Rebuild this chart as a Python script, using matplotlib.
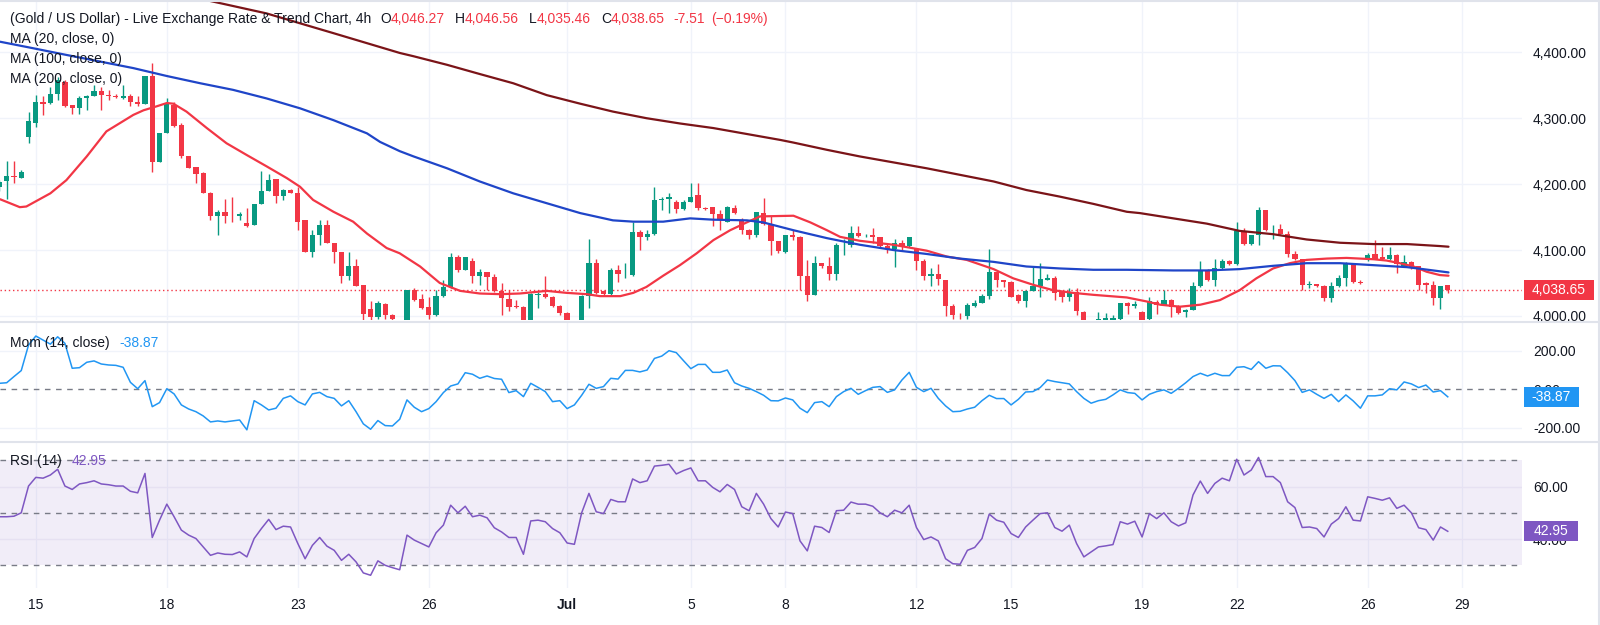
import matplotlib
matplotlib.use("Agg")
import matplotlib.pyplot as plt
from matplotlib.lines import Line2D
from matplotlib.patches import Rectangle

plt.rcParams['font.family'] = ['Liberation Sans', 'DejaVu Sans']

# XAU/USD 4h candles, oldest first
opens = [4195, 4205, 4212, 4210, 4272, 4292, 4325, 4323, 4336, 4355,
         4320, 4315, 4330, 4334, 4342, 4335, 4333, 4331, 4333, 4325,
         4322, 4364, 4234, 4277, 4320, 4290, 4243, 4226, 4217, 4187,
         4152, 4158, 4152, 4151, 4141, 4138, 4170, 4189, 4207, 4182,
         4191, 4187, 4145, 4097, 4123, 4138, 4111, 4097, 4060, 4075,
         4047, 4010, 3999, 4018, 4002, 3993, 3990, 4039, 4025, 4013,
         4001, 4030, 4044, 4090, 4070, 4084, 4061, 4067, 4059, 4038,
         4025, 4015, 4014, 3993, 4032, 4033, 4029, 4015, 4005, 3989,
         3982, 4030, 4080, 4038, 4034, 4069, 4063, 4062, 4128, 4120,
         4124, 4176, 4177, 4173, 4162, 4173, 4183, 4164, 4165, 4155,
         4143, 4163, 4145, 4131, 4123, 4156, 4138, 4114, 4097, 4123,
         4120, 4061, 4032, 4080, 4075, 4063, 4107, 4108, 4126, 4121,
         4123, 4119, 4106, 4101, 4111, 4106, 4101, 4084, 4060, 4064,
         4055, 4015, 4002, 4000, 4015, 4020, 4030, 4066, 4054, 4052,
         4031, 4022, 4038, 4045, 4055, 4057, 4036, 4029, 4037, 4006,
         3993, 3990, 3992, 3993, 3995, 4019, 4015, 4006, 3995, 4021,
         4017, 4024, 4015, 4006, 4009, 4045, 4069, 4054, 4072, 4084,
         4079, 4129, 4109, 4123, 4160, 4130, 4132, 4125, 4094, 4086,
         4047, 4048, 4045, 4027, 4045, 4057, 4077, 4052, 4087, 4094,
         4090, 4087, 4092, 4075, 4082, 4075, 4050, 4047, 4027, 4046.27]
highs = [4206, 4235, 4235, 4221, 4310, 4335, 4333, 4347, 4363, 4358,
         4320, 4333, 4335, 4350, 4347, 4343, 4337, 4350, 4336, 4333,
         4364, 4383, 4277, 4330, 4325, 4292, 4243, 4226, 4218, 4188,
         4161, 4178, 4181, 4157, 4163, 4170, 4220, 4215, 4207, 4193,
         4193, 4196, 4145, 4131, 4145, 4145, 4111, 4097, 4097, 4087,
         4047, 4022, 4022, 4020, 4003, 3994, 4040, 4042, 4034, 4029,
         4039, 4054, 4096, 4092, 4090, 4088, 4071, 4067, 4063, 4050,
         4039, 4024, 4015, 4035, 4037, 4061, 4030, 4016, 4006, 3993,
         4031, 4116, 4087, 4039, 4072, 4077, 4080, 4142, 4130, 4130,
         4196, 4181, 4186, 4176, 4176, 4202, 4202, 4166, 4165, 4160,
         4167, 4168, 4148, 4132, 4158, 4179, 4151, 4114, 4123, 4130,
         4121, 4085, 4091, 4081, 4090, 4111, 4117, 4136, 4136, 4124,
         4133, 4120, 4111, 4116, 4115, 4120, 4103, 4087, 4072, 4079,
         4055, 4018, 4005, 4019, 4024, 4033, 4101, 4067, 4055, 4053,
         4034, 4040, 4074, 4080, 4064, 4061, 4038, 4042, 4042, 4007,
         3993, 4006, 4004, 4001, 4019, 4021, 4022, 4007, 4029, 4024,
         4039, 4026, 4016, 4010, 4052, 4084, 4071, 4086, 4086, 4085,
         4142, 4134, 4123, 4166, 4160, 4138, 4140, 4129, 4099, 4086,
         4053, 4049, 4047, 4052, 4062, 4082, 4080, 4054, 4096, 4115,
         4105, 4104, 4094, 4092, 4083, 4075, 4051, 4053, 4046, 4046.56]
lows = [4190, 4177, 4202, 4209, 4262, 4287, 4305, 4322, 4328, 4317,
        4307, 4307, 4312, 4333, 4313, 4328, 4330, 4329, 4318, 4318,
        4322, 4219, 4234, 4277, 4287, 4240, 4224, 4201, 4186, 4146,
        4123, 4141, 4143, 4146, 4135, 4138, 4170, 4189, 4171, 4176,
        4187, 4131, 4097, 4090, 4108, 4110, 4080, 4050, 4054, 4045,
        3994, 3994, 3995, 3996, 3990, 3982, 3986, 4022, 4010, 3996,
        4000, 4029, 4043, 4067, 4069, 4050, 4047, 4039, 4037, 4001,
        4007, 4012, 3985, 3990, 4012, 4027, 4014, 4001, 3988, 3978,
        3980, 4012, 4034, 4031, 4032, 4052, 4058, 4060, 4100, 4115,
        4123, 4160, 4156, 4156, 4161, 4173, 4161, 4160, 4137, 4130,
        4142, 4154, 4125, 4116, 4119, 4138, 4093, 4095, 4096, 4115,
        4040, 4022, 4032, 4073, 4054, 4055, 4093, 4105, 4120, 4119,
        4110, 4104, 4095, 4074, 4100, 4104, 4070, 4055, 4045, 4047,
        4000, 3996, 3996, 3996, 4014, 4019, 4025, 4044, 4044, 4028,
        4020, 4014, 4038, 4028, 4054, 4024, 4021, 4022, 4002, 3988,
        3985, 3988, 3988, 3990, 3993, 4003, 4012, 3990, 3993, 4003,
        4016, 3999, 4003, 3999, 4009, 4044, 4053, 4045, 4071, 4077,
        4077, 4108, 4108, 4107, 4129, 4116, 4124, 4090, 4085, 4040,
        4042, 4044, 4022, 4021, 4044, 4045, 4050, 4048, 4084, 4087,
        4085, 4085, 4065, 4074, 4071, 4040, 4035, 4017, 4010, 4035.46]
closes = [4203, 4212, 4211, 4219, 4295, 4325, 4322, 4336, 4358, 4318,
          4315, 4330, 4334, 4342, 4335, 4333, 4332, 4333, 4325, 4322,
          4364, 4234, 4277, 4323, 4288, 4242, 4225, 4216, 4187, 4152,
          4158, 4152, 4151, 4155, 4136, 4170, 4189, 4206, 4182, 4191,
          4187, 4143, 4097, 4123, 4138, 4111, 4097, 4060, 4075, 4045,
          4003, 3999, 4019, 4002, 3996, 3988, 4039, 4024, 4012, 4001,
          4030, 4044, 4090, 4070, 4089, 4061, 4067, 4059, 4038, 4027,
          4014, 4013, 3992, 4034, 4033, 4029, 4015, 4004, 3989, 3981,
          4030, 4080, 4035, 4033, 4070, 4063, 4064, 4128, 4120, 4124,
          4176, 4177, 4181, 4162, 4173, 4181, 4163, 4162, 4155, 4146,
          4165, 4156, 4130, 4123, 4158, 4140, 4114, 4098, 4123, 4120,
          4061, 4032, 4080, 4075, 4064, 4108, 4108, 4126, 4121, 4122,
          4119, 4106, 4101, 4111, 4106, 4119, 4084, 4060, 4064, 4056,
          4015, 4001, 4001, 4017, 4020, 4030, 4066, 4054, 4051, 4029,
          4022, 4038, 4045, 4056, 4057, 4035, 4029, 4037, 4007, 3993,
          3990, 3996, 3997, 3997, 4019, 4015, 4018, 3994, 4022, 4017,
          4024, 4013, 4005, 4009, 4045, 4069, 4055, 4072, 4084, 4079,
          4129, 4109, 4123, 4160, 4130, 4131, 4125, 4094, 4086, 4047,
          4048, 4045, 4027, 4045, 4057, 4080, 4051, 4050, 4093, 4087,
          4087, 4093, 4079, 4082, 4072, 4047, 4047, 4027, 4046, 4038.65]

# moving averages, sampled along the drawn curves (bar index, value)
ma20_x = [0.1, 2.8, 3.7, 7.0, 9.2, 12.0, 14.7, 18.4, 19.8, 21.6, 23.0, 23.9, 25.7, 28.5,
          31.2, 34.0, 36.7, 39.5, 41.3, 43.1, 45.9, 48.6, 50.5, 53.2, 55.0, 57.8, 60.5,
          63.3, 66.0, 68.8, 71.5, 75.2, 77.9, 80.7, 82.5, 85.3, 87.1, 88.9, 91.2, 93.5,
          95.8, 98.1, 100.4, 102.7, 104.5, 109.1, 111.4, 113.7, 115.5, 118.2, 122.8,
          127.4, 130.2, 132.9, 136.6, 139.3, 142.1, 144.8, 147.5, 150.3, 154.9, 157.6,
          159.5, 162.2, 165.0, 167.7, 170.4, 172.7, 175.0, 177.3, 179.6, 182.4, 185.1,
          186.9, 188.8, 190.6, 192.4, 194.3, 196.1, 197.9, 199.1]
ma20_y = [4177, 4165, 4166, 4186, 4206, 4242, 4280, 4305, 4312, 4318, 4323, 4322, 4310, 4285,
          4262, 4244, 4227, 4209, 4196, 4176, 4158, 4143, 4125, 4103, 4095, 4075, 4050,
          4038, 4034, 4033, 4034, 4038, 4035, 4033, 4030, 4030, 4035, 4044, 4061, 4077,
          4095, 4115, 4130, 4142, 4151, 4152, 4142, 4130, 4120, 4114, 4108,
          4099, 4090, 4085, 4071, 4057, 4047, 4039, 4035, 4032, 4028, 4022,
          4017, 4014, 4017, 4024, 4039, 4057, 4072, 4080, 4085, 4087, 4088,
          4087, 4086, 4084, 4080, 4075, 4067, 4062, 4061]
ma100_x = [0.1, 4.7, 9.2, 13.8, 18.4, 23.0, 27.6, 32.1, 36.7, 41.3, 45.9, 50.5, 52.3, 55.0,
           56.9, 61.5, 66.0, 70.6, 75.2, 79.8, 84.3, 87.1, 91.2, 94.9, 98.1, 102.7, 104.9,
           109.1, 113.7, 118.2, 122.8, 127.4, 132.0, 136.6, 141.1, 145.7, 150.3, 154.9,
           161.3, 165.9, 170.4, 175.0, 179.6, 184.2, 188.8, 193.4, 195.6, 199.1]
ma100_y = [4416, 4406, 4396, 4386, 4376, 4364, 4353, 4343, 4330, 4315, 4297, 4277, 4264, 4250,
           4242, 4224, 4204, 4186, 4171, 4156, 4145, 4143, 4143, 4148, 4146, 4145, 4142,
           4130, 4118, 4108, 4100, 4094, 4087, 4082, 4075, 4072, 4070, 4070,
           4069, 4069, 4071, 4076, 4080, 4080, 4077, 4074, 4071, 4066]
ma200_x = [25.7, 28.5, 36.7, 45.9, 55.0, 56.9, 61.5, 66.0, 70.6, 75.2, 79.8, 84.3, 88.9,
           93.5, 98.1, 102.7, 107.3, 109.1, 113.7, 118.2, 122.8, 127.4, 132.0, 136.6,
           141.1, 145.7, 150.3, 154.9, 156.7, 161.3, 165.9, 170.4, 175.0, 179.6, 184.2,
           188.8, 193.4, 197.9, 199.1]
ma200_y = [4487, 4479, 4459, 4429, 4399, 4394, 4381, 4367, 4353, 4335, 4322, 4310, 4300,
           4292, 4285, 4276, 4267, 4263, 4252, 4242, 4233, 4224, 4214, 4204,
           4191, 4181, 4170, 4158, 4156, 4148, 4140, 4129, 4124, 4116, 4111,
           4109, 4109, 4106, 4105]

# Momentum (14, close)
mom = [31, 34, 66, 97, 229, 276, 255, 234, 272, 238, 109, 112, 140, 147, 131, 126, 124, 114,
       36, 3, 45, -90, -69, 3, -24, -81, -102, -116, -138, -169, -164, -169, -164, -159, -210,
       -59, -81, -107, -98, -47, -34, -64, -81, -24, -16, -38, -47, -86, -59, -116, -179, -207,
       -162, -188, -190, -155, -55, -93, -116, -100, -64, -17, 17, 28, 86, 78, 57, 69, 56,
       52, -17, -7, -38, 31, 10, -12, -64, -59, -100, -81, -31, 26, 5, 14, 57, 53, 98, 98, 90,
       100, 160, 172, 200, 190, 148, 107, 129, 129, 88, 88, 100, 34,
       17, 5, -12, -31, -59, -60, -45, -55, -98, -121, -69, -64, -90, -38, -12, 5, -26, -7, 10,
       14, -16, -3, 48, 88, 10, -12, 5, -47, -86, -116, -114, -102, -93, -59,
       -31, -48, -48, -81, -52, -14, -12, 9, 48, 40, 34, 28, -12, -47, -72, -59, -52, -29, -3,
       -17, -21, -55, -26, -12, -3, -21, 5, 34, 66, 83, 69, 83, 71, 71,
       114, 117, 103, 143, 109, 122, 121, 86, 45, -16, -3, -26, -47, -26, -64, -29, -60, -98,
       -34, -34, -29, 3, -3, 38, 28, 9, 22, -14, -7, -38.87]

# RSI (14)
rsi = [48.5, 48.5, 48.7, 50.0, 60.2, 63.5, 63.2, 64.4, 66.6, 60.2, 58.9, 61.0, 61.5, 62.2,
       61.0, 60.7, 60.2, 60.2, 58.2, 57.6, 65.0, 40.6, 47.2, 53.3, 48.5, 43.4, 41.5, 40.2,
       37.0, 33.8, 34.7, 34.2, 34.1, 35.1, 33.2,
       40.2, 44.0, 47.5, 43.6, 44.9, 44.6, 38.3, 32.5, 37.6, 40.6, 37.3, 35.7, 31.9, 34.2,
       31.3, 27.1, 26.2, 31.7, 30.0, 29.1, 28.3, 41.5, 39.6, 38.3, 37.0, 42.4, 45.3, 52.9,
       50.0, 52.5, 48.5, 49.1, 48.1, 44.3,
       42.7, 40.6, 40.6, 34.2, 46.9, 47.2, 46.6, 44.0, 42.4, 38.5, 38.0, 50.0, 57.4, 50.4,
       49.7, 55.1, 54.2, 54.2, 62.9, 61.5, 62.2, 67.8, 68.1, 68.5, 64.8, 66.1, 67.1, 62.2,
       62.2, 59.7, 58.0, 60.8, 58.9,
       52.3, 50.8, 57.4, 53.3, 47.8, 44.6, 50.3, 49.7, 39.3, 35.5, 44.9, 44.4, 42.5, 50.8,
       51.0, 54.1, 53.3, 53.3, 52.5, 50.0, 48.5, 51.0, 50.0, 52.9, 44.4, 39.8, 40.8, 39.3,
       32.5, 30.6, 30.4, 35.7, 36.8, 40.2,
       49.5, 47.2, 46.4, 42.1, 40.6, 44.6, 47.2, 49.7, 50.0, 44.4, 43.0, 45.3, 38.3, 33.2,
       35.1, 37.0, 37.4, 37.9, 46.6, 45.7, 46.8, 40.8, 49.7, 47.8, 50.0, 46.6, 45.0, 46.2,
       56.8, 62.1, 57.4, 61.2, 63.2, 62.2,
       70.4, 64.4, 66.3, 71.1, 63.8, 63.8, 61.5, 54.2, 52.0, 44.4, 44.6, 44.0, 40.8, 45.7,
       47.8, 52.3, 47.2, 46.9, 56.1, 55.5, 54.8, 55.7, 51.7, 52.9, 50.0, 44.3, 43.6, 39.6,
       44.6, 42.95]

# date labels and the bar index they sit on
tick_pos = [5, 23, 41, 59, 78, 95, 108, 126, 139, 157, 170, 188, 201]
tick_lab = ["15", "18", "23", "26", "Jul", "5", "8", "12", "15", "19", "22", "26", "29"]

price_ticks = [4000, 4100, 4200, 4300, 4400]
mom_ticks = [200, 0, -200]
rsi_ticks = [60, 40]

UP, DOWN = "#089981", "#f23645"
TXT = "#131722"
GRID = "#f0f3fa"
SEP = "#e0e3eb"

W, H = 1600, 625
PLOT_R = 1522
fig = plt.figure(figsize=(W / 100, H / 100), dpi=100)
fig.patch.set_facecolor("white")


def rect(top, bottom, right=PLOT_R):
    return [0, 1 - bottom / H, right / W, (bottom - top) / H]


ax_p = fig.add_axes(rect(2, 320))
ax_m = fig.add_axes(rect(323, 440), sharex=ax_p)
ax_r = fig.add_axes(rect(443, 588), sharex=ax_p)

n = len(closes)
xs = list(range(n))
ax_p.set_xlim(0.08, 209.2)

for ax in (ax_p, ax_m, ax_r):
    for s in ax.spines.values():
        s.set_visible(False)
    ax.set_facecolor("white")
    ax.yaxis.tick_right()
    ax.tick_params(axis="y", length=0, pad=8, labelsize=10, labelcolor=TXT)
    ax.tick_params(axis="x", length=0)
    for t in tick_pos:
        ax.axvline(t, color=GRID, lw=1, zorder=0)


def value_tag(ax, value, text, color, width_px):
    # coloured tag on the price scale, centred on the value
    lo, hi = ax.get_ylim()
    h_px = ax.get_position().height * H
    h_units = 20 * (hi - lo) / h_px
    x0 = 1 + 2 / PLOT_R
    w = width_px / PLOT_R
    tr = ax.get_yaxis_transform()
    ax.add_patch(Rectangle((x0, value - h_units / 2), w, h_units, transform=tr,
                           fc=color, ec="none", clip_on=False, zorder=10))
    ax.text(x0 + w / 2, value, text, transform=tr, ha="center", va="center",
            fontsize=10, color="white", zorder=11, clip_on=False)


# ---- price panel
ax_p.set_ylim(3993.8, 4476.3)
for v in price_ticks:
    ax_p.axhline(v, color=GRID, lw=1, zorder=0)
ax_p.set_yticks(price_ticks)
ax_p.set_yticklabels([f"{v:,.2f}" for v in price_ticks])
ax_p.tick_params(axis="x", labelbottom=False)

cols = [UP if c >= o else DOWN for o, c in zip(opens, closes)]
ax_p.vlines(xs, lows, highs, colors=cols, lw=1, zorder=2)
bottoms = [min(o, c) for o, c in zip(opens, closes)]
heights = [max(abs(c - o), 0.9) for o, c in zip(opens, closes)]
ax_p.bar(xs, heights, bottom=bottoms, width=0.72, color=cols, lw=0, zorder=3)

ax_p.plot(ma20_x, ma20_y, color="#f23645", lw=1.6, zorder=4, solid_capstyle="round")
ax_p.plot(ma100_x, ma100_y, color="#1f45c8", lw=1.6, zorder=4, solid_capstyle="round")
ax_p.plot(ma200_x, ma200_y, color="#7b1418", lw=1.6, zorder=4, solid_capstyle="round")

last = closes[-1]
ax_p.axhline(last, color=DOWN, lw=1, ls=(0, (1, 2)), zorder=1)
value_tag(ax_p, last, f"{last:,.2f}", DOWN, 70)

# ---- momentum panel
ax_m.set_ylim(-262.7, 343.5)
for v in (200, -200):
    ax_m.axhline(v, color=GRID, lw=1, zorder=0)
ax_m.axhline(0, color="#787b86", lw=1, ls=(0, (4, 4)), zorder=1)
ax_m.plot(xs, mom, color="#2196f3", lw=1.1, zorder=3)
ax_m.set_yticks(mom_ticks)
ax_m.set_yticklabels(["200.00", "0.00", "-200.00"])
ax_m.tick_params(axis="x", labelbottom=False)
value_tag(ax_m, mom[-1], f"{mom[-1]:.2f}", "#2196f3", 55)

# ---- RSI panel
ax_r.set_ylim(21.35, 76.6)
ax_r.axhspan(30, 70, color="#7e57c2", alpha=0.1, lw=0, zorder=0)
for v in rsi_ticks:
    ax_r.axhline(v, color="#e6e1f2", lw=1, zorder=0)
for v in (70, 50, 30):
    ax_r.axhline(v, color="#787b86", lw=1, ls=(0, (4, 4)), zorder=1)
ax_r.plot(xs, rsi, color="#7e57c2", lw=1.1, zorder=3)
ax_r.set_yticks(rsi_ticks)
ax_r.set_yticklabels(["60.00", "40.00"])
value_tag(ax_r, rsi[-1], f"{rsi[-1]:.2f}", "#7e57c2", 54)

ax_r.set_xticks(tick_pos)
ax_r.set_xticklabels(tick_lab)
ax_r.tick_params(axis="x", pad=7, labelsize=10, labelcolor=TXT)
ax_r.get_xticklabels()[4].set_fontweight("bold")

# panel separators and frame
for y in (0.5, 321.5, 441.5):
    fig.add_artist(Line2D([0, 1], [1 - y / H, 1 - y / H], color=SEP, lw=1.5))
fig.add_artist(Line2D([1 - 1.5 / W, 1 - 1.5 / W], [0, 1], color=SEP, lw=1.5))

# ---- legends, chained left to right
renderer = fig.canvas.get_renderer()


def chain(pieces, x0, y):
    x = x0
    for txt, col, gap in pieces:
        t = fig.text(x / W, 1 - y / H, txt, color=col, fontsize=10, va="center", ha="left")
        bb = t.get_window_extent(renderer=renderer)
        x = bb.x1 + gap


chain([("(Gold / US Dollar) - Live Exchange Rate & Trend Chart, 4h", TXT, 9),
       ("O", TXT, 0), ("4,046.27", DOWN, 10),
       ("H", TXT, 0), ("4,046.56", DOWN, 10),
       ("L", TXT, 0), ("4,035.46", DOWN, 10),
       ("C", TXT, 0), ("4,038.65", DOWN, 9),
       ("-7.51", DOWN, 6), ("(\u22120.19%)", DOWN, 0)], 10, 19)
fig.text(10 / W, 1 - 39 / H, "MA (20, close, 0)", color=TXT, fontsize=10, va="center")
fig.text(10 / W, 1 - 59 / H, "MA (100, close, 0)", color=TXT, fontsize=10, va="center")
fig.text(10 / W, 1 - 79 / H, "MA (200, close, 0)", color=TXT, fontsize=10, va="center")
chain([("Mom (14, close)", TXT, 10), ("-38.87", "#2196f3", 0)], 10, 343)
chain([("RSI (14)", TXT, 10), ("42.95", "#7e57c2", 0)], 10, 461)

fig.savefig("out.png", dpi=100, facecolor="white")
